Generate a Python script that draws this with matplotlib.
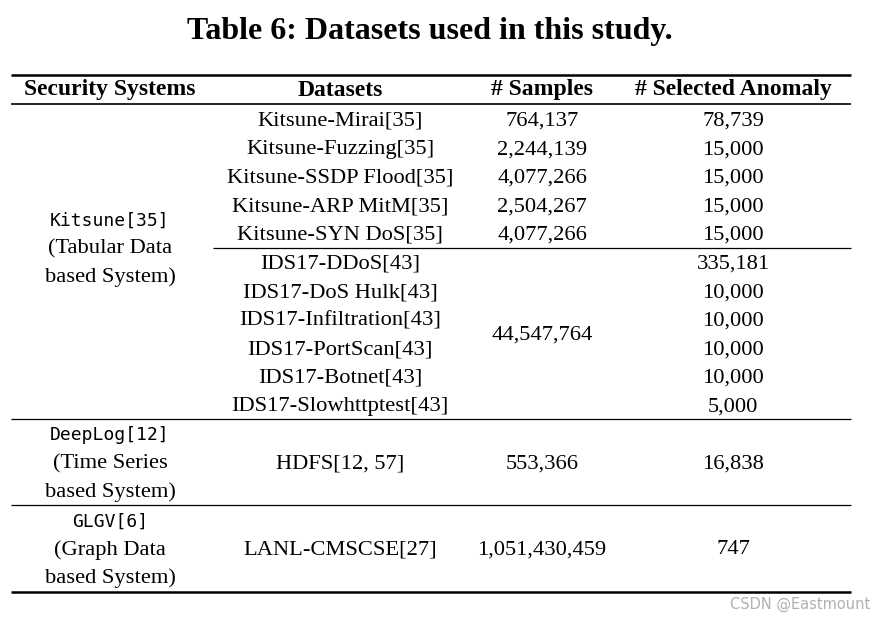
import matplotlib.pyplot as plt

W, H = 875, 618

title = 'Table 6: Datasets used in this study.'
headers = ['Security Systems', 'Datasets', '# Samples', '# Selected Anomaly']

kitsune_datasets = ['Kitsune-Mirai[35]', 'Kitsune-Fuzzing[35]', 'Kitsune-SSDP Flood[35]',
                    'Kitsune-ARP MitM[35]', 'Kitsune-SYN DoS[35]']
kitsune_samples = ['764,137', '2,244,139', '4,077,266', '2,504,267', '4,077,266']
kitsune_anomaly = ['78,739', '15,000', '15,000', '15,000', '15,000']

ids_datasets = ['IDS17-DDoS[43]', 'IDS17-DoS Hulk[43]', 'IDS17-Infiltration[43]',
                'IDS17-PortScan[43]', 'IDS17-Botnet[43]', 'IDS17-Slowhttptest[43]']
ids_samples = '44,547,764'
ids_anomaly = ['335,181', '10,000', '10,000', '10,000', '10,000', '5,000']

systems = [('Kitsune[35]', '(Tabular Data', 'based System)'),
           ('DeepLog[12]', '(Time Series', 'based System)'),
           ('GLGV[6]', '(Graph Data', 'based System)')]
single_rows = [('HDFS[12, 57]', '553,366', '16,838'),
               ('LANL-CMSCSE[27]', '1,051,430,459', '747')]

serif = 'Liberation Serif'
mono = 'DejaVu Sans Mono'
fs = 16.2

fig = plt.figure(figsize=(W / 100, H / 100), dpi=100)
ax = fig.add_axes([0, 0, 1, 1])
ax.set_xlim(0, W)
ax.set_ylim(H, 0)
ax.axis('off')

col_x = [110, 340, 542, 733]
x0, x1 = 11, 851
row_h = 28.55
dy = 2  # text centre sits a bit below the bbox centre in the original


def txt(x, y, s, **kw):
    kw.setdefault('family', serif)
    kw.setdefault('fontsize', fs)
    ax.text(x, y + dy, s, ha='center', va='center', color='black', **kw)


def hline(y, xa=x0, xb=x1, lw=1.0):
    ax.plot([xa, xb], [y, y], color='black', lw=lw, solid_capstyle='butt')


txt(430, 29, title, fontsize=23, fontweight='bold')

hline(75, lw=1.8)
for x, h in zip(col_x, headers):
    txt(x, 88, h, fontweight='bold', fontsize=17)
hline(104, lw=1.2)

# Kitsune block
y = 119
for d, s, a in zip(kitsune_datasets, kitsune_samples, kitsune_anomaly):
    txt(col_x[1], y, d)
    txt(col_x[2], y, s)
    txt(col_x[3], y, a)
    y += row_h
hline(248, xa=213, lw=0.9)
y = 262
ys = []
for d, a in zip(ids_datasets, ids_anomaly):
    txt(col_x[1], y, d)
    txt(col_x[3], y, a)
    ys.append(y)
    y += row_h
txt(col_x[2], (ys[0] + ys[-1]) / 2 - 0.5, ids_samples)

def system_block(yc, lines):
    txt(col_x[0], yc - row_h, lines[0], family=mono, fontsize=13)
    txt(col_x[0], yc, lines[1])
    txt(col_x[0], yc + row_h, lines[2])

system_block(247, systems[0])
hline(419, lw=0.9)

system_block(462, systems[1])
txt(col_x[1], 462, single_rows[0][0])
txt(col_x[2], 462, single_rows[0][1])
txt(col_x[3], 462, single_rows[0][2])
hline(505, lw=0.9)

system_block(548, systems[2])
txt(col_x[1], 548, single_rows[1][0])
txt(col_x[2], 548, single_rows[1][1])
txt(col_x[3], 548, single_rows[1][2])
hline(592, lw=1.8)

ax.text(870, 604, 'CSDN @Eastmount', ha='right', va='center', fontsize=10.5,
        color='#b0b0b0', family='DejaVu Sans')

fig.savefig('out.png', dpi=100)
